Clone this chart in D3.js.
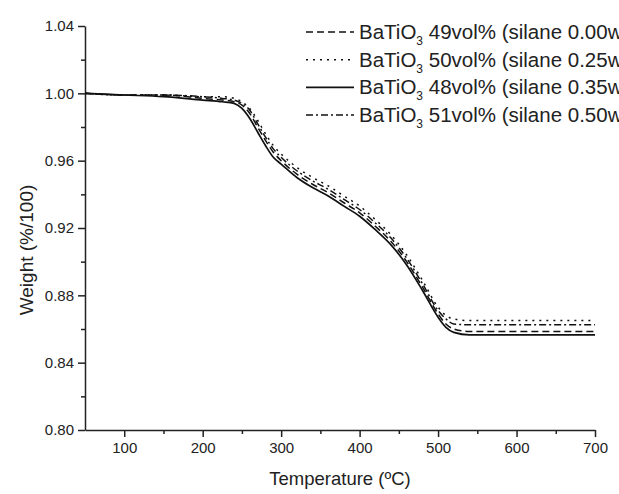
<!DOCTYPE html>
<html><head><meta charset="utf-8">
<script src="https://cdn.jsdelivr.net/npm/d3@7"></script>
<style>body{margin:0;background:#fff}svg{display:block;font-family:"Liberation Sans",Arial,sans-serif}</style>
</head><body><svg id="c" width="619" height="494"></svg>
<script>
const temps = [50,100,150,200,225,240,250,260,270,280,290,300,320,340,360,380,400,420,440,460,480,500,510,520,540,600,700];
const w49 = [1.000,0.999,0.999,0.997,0.996,0.995,0.993,0.988,0.980,0.972,0.965,0.960,0.952,0.946,0.941,0.935,0.929,0.921,0.912,0.900,0.885,0.869,0.863,0.860,0.8585,0.8585,0.8585];
const w50 = [1.000,0.999,0.999,0.998,0.998,0.997,0.995,0.991,0.984,0.976,0.969,0.964,0.956,0.950,0.945,0.939,0.933,0.925,0.916,0.904,0.889,0.873,0.868,0.866,0.865,0.865,0.865];
const w48 = [1.000,0.999,0.998,0.996,0.995,0.994,0.991,0.985,0.977,0.969,0.962,0.958,0.950,0.944,0.939,0.933,0.927,0.919,0.910,0.898,0.883,0.867,0.861,0.858,0.8565,0.8565,0.8565];
const w51 = [1.000,0.999,0.999,0.998,0.997,0.996,0.994,0.990,0.982,0.974,0.967,0.962,0.954,0.948,0.943,0.937,0.931,0.923,0.914,0.902,0.887,0.871,0.866,0.863,0.8625,0.8625,0.8625];
const seriesNames = ["49vol% (silane 0.00wt%)","50vol% (silane 0.25wt%)","48vol% (silane 0.35wt%)","51vol% (silane 0.50wt%)"];
const xTicks = [100,200,300,400,500,600,700];
const yTicks = [0.80,0.84,0.88,0.92,0.96,1.00,1.04];

const dashes = ["7,4","2,5",null,"7,3,2,3"];
const widths = [1.5,1.5,1.7,1.5];
const seriesVals = [w49,w50,w48,w51];

const svg = d3.select("#c");
const L=85,R=595,T=26,B=430;
const x = d3.scaleLinear().domain([50,700]).range([L,R]);
const y = d3.scaleLinear().domain([0.80,1.04]).range([B,T]);

const xa = svg.append("g").attr("transform",`translate(0,${B})`)
  .call(d3.axisBottom(x).tickValues(xTicks).tickFormat(d3.format("d")).tickSize(7).tickSizeOuter(0).tickPadding(5));
const xm = svg.append("g").attr("transform",`translate(0,${B})`)
  .call(d3.axisBottom(x).tickValues([150,250,350,450,550,650]).tickFormat("").tickSize(4).tickSizeOuter(0));
xm.select(".domain").remove();
const ya = svg.append("g").attr("transform",`translate(${L},0)`)
  .call(d3.axisLeft(y).tickValues(yTicks).tickFormat(d3.format(".2f")).tickSize(7).tickSizeOuter(0).tickPadding(4));
const ym = svg.append("g").attr("transform",`translate(${L},0)`)
  .call(d3.axisLeft(y).tickValues([0.82,0.86,0.90,0.94,0.98,1.02]).tickFormat("").tickSize(4).tickSizeOuter(0));
ym.select(".domain").remove();
svg.selectAll(".domain,.tick line").attr("stroke","#222").attr("stroke-width",1.5);
svg.selectAll(".tick text").attr("font-size",15).attr("fill","#222").attr("font-family","Liberation Sans, Arial, sans-serif");

svg.append("text").attr("x",(L+R)/2).attr("y",485).attr("text-anchor","middle")
  .attr("font-size",18.5).attr("fill","#222").text("Temperature (ºC)");
svg.append("text").attr("transform",`translate(33,250) rotate(-90)`).attr("text-anchor","middle")
  .attr("font-size",19).attr("fill","#222").text("Weight (%/100)");

const line = d3.line().x((d,i)=>x(temps[i])).y(d=>y(d)).curve(d3.curveMonotoneX);
seriesVals.forEach((vals,k)=>{
  svg.append("path").attr("d",line(vals)).attr("fill","none").attr("stroke","#111")
    .attr("stroke-width",widths[k]).attr("stroke-dasharray",dashes[k]);
});

const lg = svg.append("g");
seriesNames.forEach((nm,k)=>{
  const cy = 32 + k*27.7;
  lg.append("line").attr("x1",306).attr("x2",354).attr("y1",cy).attr("y2",cy)
    .attr("stroke","#111").attr("stroke-width",widths[k]).attr("stroke-dasharray",dashes[k]);
  const t = lg.append("text").attr("x",359).attr("y",cy+7).attr("font-size",20.5).attr("fill","#222");
  t.append("tspan").text("BaTiO");
  t.append("tspan").attr("dy",6).attr("font-size",12).text("3");
  t.append("tspan").attr("dy",-6).text(" "+nm);
});
</script></body></html>
